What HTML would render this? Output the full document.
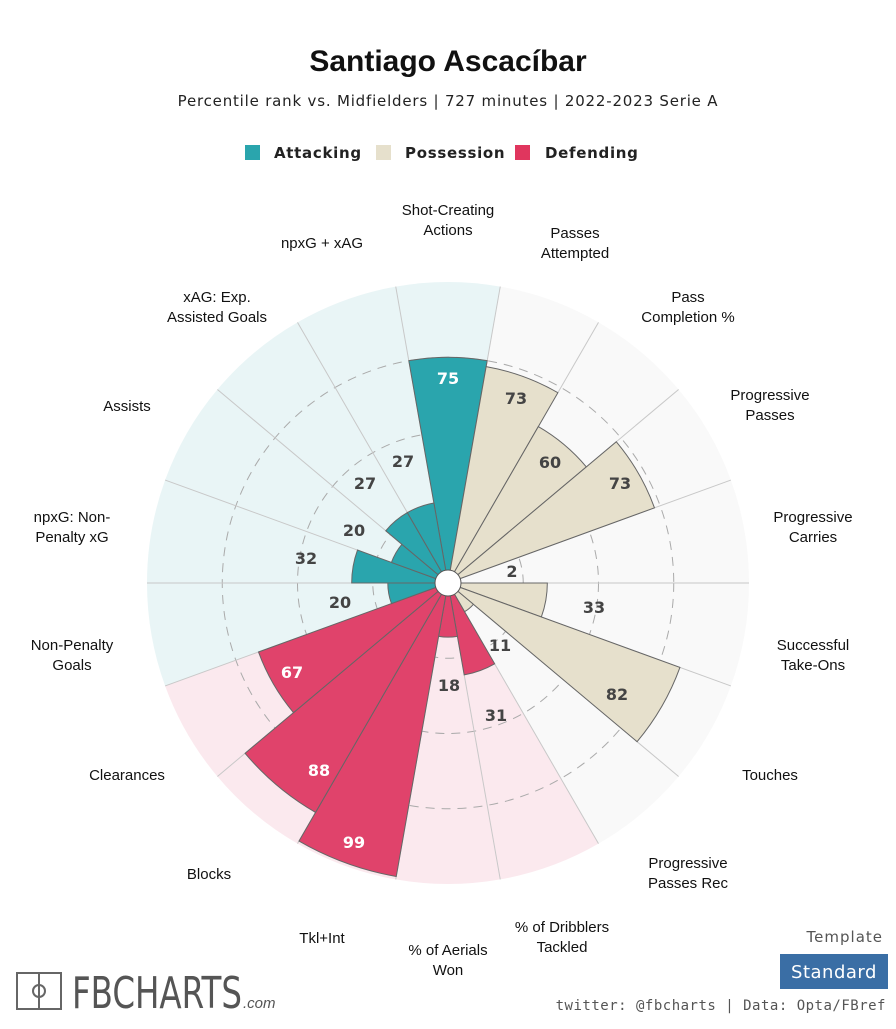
<!DOCTYPE html>
<html><head><meta charset="utf-8"><style>
body{margin:0;background:#fff;width:896px;height:1024px;overflow:hidden;font-family:"Liberation Sans",sans-serif}
</style></head><body>
<svg id="s" width="896" height="1024" xmlns="http://www.w3.org/2000/svg" font-family="Liberation Sans, sans-serif">
<text x="448" y="71" text-anchor="middle" font-size="30" font-weight="bold" fill="#111">Santiago Ascacíbar</text>
<text x="448" y="106" text-anchor="middle" font-size="15" fill="#222" font-family="DejaVu Sans, sans-serif" letter-spacing="0.8">Percentile rank vs. Midfielders | 727 minutes | 2022-2023 Serie A</text>
<rect x="245" y="145" width="15" height="15" fill="#2aa5ad"/>
<text x="274" y="158" font-size="15" font-weight="bold" fill="#222" font-family="DejaVu Sans, sans-serif" letter-spacing="0.7">Attacking</text>
<rect x="376" y="145" width="15" height="15" fill="#e6e0cc"/>
<text x="405" y="158" font-size="15" font-weight="bold" fill="#222" font-family="DejaVu Sans, sans-serif" letter-spacing="0.7">Possession</text>
<rect x="515" y="145" width="15" height="15" fill="#e0365e"/>
<text x="545" y="158" font-size="15" font-weight="bold" fill="#222" font-family="DejaVu Sans, sans-serif" letter-spacing="0.7">Defending</text>
<g id="chart"></g>
<rect x="17" y="973" width="44" height="36" fill="none" stroke="#666" stroke-width="2"/>
<line x1="39" y1="973" x2="39" y2="1009" stroke="#666" stroke-width="2"/>
<circle cx="39" cy="991" r="6" fill="none" stroke="#666" stroke-width="2"/>
<text x="72" y="1008" font-size="44" fill="#555" font-family="DejaVu Sans Condensed, DejaVu Sans, sans-serif" textLength="170" lengthAdjust="spacingAndGlyphs">FBCHARTS</text>
<text x="243" y="1008" font-size="15" font-style="italic" fill="#555">.com</text>
<text x="883" y="942" text-anchor="end" font-size="15" fill="#555" font-family="DejaVu Sans, sans-serif" letter-spacing="1">Template</text>
<rect x="780" y="954" width="108" height="35" fill="#3a6ea5"/>
<text x="834" y="978" text-anchor="middle" font-size="18" fill="#fff" font-family="DejaVu Sans, sans-serif" letter-spacing="0.5">Standard</text>
<text x="886" y="1010" text-anchor="end" font-size="14" fill="#555" font-family="DejaVu Sans Mono, monospace" letter-spacing="0.5">twitter: @fbcharts | Data: Opta/FBref</text>
</svg>
<script>
var cx=448,cy=583,R=301,H=13;
var d=[
["Shot-Creating|Actions",75,"a",448,220],
["Passes|Attempted",73,"p",575,243],
["Pass|Completion %",60,"p",688,307],
["Progressive|Passes",73,"p",770,405],
["Progressive|Carries",2,"p",813,527],
["Successful|Take-Ons",33,"p",813,655],
["Touches",82,"p",770,775],
["Progressive|Passes Rec",11,"p",688,873],
["% of Dribblers|Tackled",31,"d",562,937],
["% of Aerials|Won",18,"d",448,960],
["Tkl+Int",99,"d",322,938],
["Blocks",88,"d",209,874],
["Clearances",67,"d",127,775],
["Non-Penalty|Goals",20,"a",72,655],
["npxG: Non-|Penalty xG",32,"a",72,527],
["Assists",20,"a",127,406],
["xAG: Exp.|Assisted Goals",27,"a",217,307],
["npxG + xAG",27,"a",322,243]];
var lab=[[448,378],[516,398],[550,462],[620,483],[512,571],[594,607],[617,694],[500,645],[496,715],[449,685],[354,842],[319,770],[292,672],[340,602],[306,558],[354,530],[365,483],[403,461]];
var bg={a:"#e9f5f6",p:"#f9f9f9",d:"#fbe9ee"},fc={a:"#2aa5ad",p:"#e6e0cc",d:"#e0436b"};
function pt(r,a){a=a*Math.PI/180;return [cx+r*Math.cos(a),cy-r*Math.sin(a)];}
function wedge(r,a1,a2){var p1=pt(r,a1),p2=pt(r,a2);return "M"+cx+","+cy+"L"+p1[0]+","+p1[1]+"A"+r+","+r+" 0 0 1 "+p2[0]+","+p2[1]+"Z";}
var s="";
d.forEach(function(e,i){var c=90-20*i;s+='<path d="'+wedge(R,c+10,c-10)+'" fill="'+bg[e[2]]+'"/>';});
[0.25,0.5,0.75].forEach(function(f){s+='<circle cx="'+cx+'" cy="'+cy+'" r="'+R*f+'" fill="none" stroke="#aaa" stroke-width="1" stroke-dasharray="9,7"/>';});
d.forEach(function(e,i){var c=90-20*i;var p=pt(R,c+10);s+='<line x1="'+cx+'" y1="'+cy+'" x2="'+p[0]+'" y2="'+p[1]+'" stroke="#c8c8c8" stroke-width="1"/>';});
d.forEach(function(e,i){var c=90-20*i;s+='<path d="'+wedge(Math.max(e[1]/100*R,1),c+10,c-10)+'" fill="'+fc[e[2]]+'" stroke="#666" stroke-width="1"/>';});
s+='<circle cx="'+cx+'" cy="'+cy+'" r="'+H+'" fill="#fff" stroke="#555" stroke-width="1"/>';
d.forEach(function(e,i){var l=lab[i];var inside=e[1]>=50;var col=inside&&e[2]!="p"?"#fff":"#444";
s+='<text x="'+l[0]+'" y="'+(l[1]+6)+'" text-anchor="middle" font-size="16" font-weight="bold" fill="'+col+'" font-family="DejaVu Sans, sans-serif">'+e[1]+'</text>';
var ls=e[0].split("|");var y0=e[4]-(ls.length-1)*10;
ls.forEach(function(t,k){s+='<text x="'+e[3]+'" y="'+(y0+k*20+5)+'" text-anchor="middle" font-size="15" fill="#111">'+t+'</text>';});});
document.getElementById("chart").innerHTML=s;
</script>
</body></html>
